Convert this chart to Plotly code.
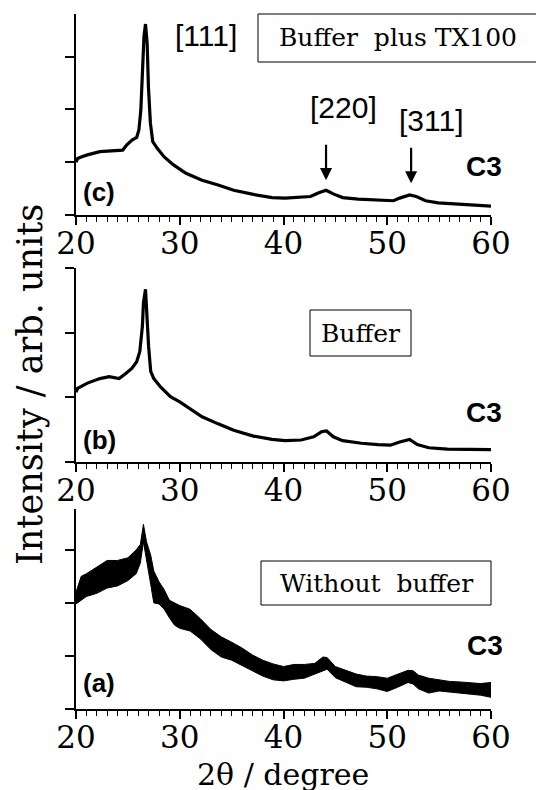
import plotly.graph_objects as go

# ---------------- data ----------------
# Panel (c): Buffer plus TX100
x_c = [20.0, 20.15, 20.5, 21.1, 22.3, 23.5, 24.5, 24.9, 25.4, 25.85, 26.06, 26.25, 26.4, 26.55, 26.7,
       26.86, 26.98, 27.17, 27.4, 27.85, 28.5, 29.4, 30.6, 32.15, 33.7, 35.2, 37.1, 38.9, 40.15, 41.7,
       42.6, 43.4, 44.1, 44.8, 45.7, 47.2, 48.8, 50.6, 51.2, 52.15, 52.8, 53.7, 54.9, 56.5, 58.3, 60.0]
y_c = [1.00, 1.07, 1.10, 1.14, 1.20, 1.22, 1.23, 1.33, 1.42, 1.47, 1.61, 1.99, 2.62, 3.38, 3.62,
       3.25, 2.43, 1.74, 1.39, 1.26, 1.10, 0.95, 0.79, 0.66, 0.57, 0.47, 0.39, 0.33, 0.32, 0.33,
       0.35, 0.42, 0.47, 0.40, 0.33, 0.30, 0.285, 0.27, 0.32, 0.38, 0.35, 0.27, 0.23, 0.21, 0.19, 0.17]

# Panel (b): Buffer
x_b = [20.0, 20.15, 21.1, 22.3, 23.2, 24.15, 24.8, 25.4, 25.85, 26.15, 26.4, 26.5, 26.7, 26.8, 27.0,
       27.2, 27.5, 28.15, 29.1, 30.0, 30.9, 32.15, 33.7, 35.2, 37.1, 38.9, 40.15, 41.7, 42.9, 43.7,
       44.15, 44.8, 45.7, 47.5, 49.1, 50.3, 51.2, 52.15, 52.9, 54.0, 55.8, 57.7, 60.0]
y_b = [1.08, 1.14, 1.22, 1.29, 1.32, 1.29, 1.37, 1.45, 1.55, 1.71, 2.10, 2.46, 2.67, 2.35, 1.78,
       1.40, 1.29, 1.16, 1.01, 0.93, 0.83, 0.70, 0.59, 0.49, 0.40, 0.35, 0.33, 0.34, 0.39, 0.47,
       0.48, 0.39, 0.33, 0.29, 0.27, 0.26, 0.31, 0.35, 0.27, 0.22, 0.20, 0.19, 0.19]

# Panel (a): Without buffer (very noisy: upper / lower envelope of the trace)
x_a = [20.0, 20.5, 21.0, 22.0, 23.0, 24.0, 25.0, 25.8, 26.2, 26.5, 26.8, 27.2, 27.5, 28.0, 28.5,
       29.0, 29.5, 30.0, 31.0, 32.0, 33.0, 34.0, 35.0, 36.0, 37.0, 38.0, 39.0, 40.0, 41.0, 42.0,
       43.0, 43.8, 44.2, 45.0, 46.0, 47.0, 48.0, 49.0, 50.0, 51.0, 52.0, 52.5, 53.0, 54.0, 55.0,
       56.0, 57.0, 58.0, 59.0, 60.0]
a_upper = [2.20, 2.50, 2.55, 2.68, 2.80, 2.80, 2.85, 3.00, 3.10, 3.48, 3.15, 2.90, 2.60, 2.40, 2.25,
           2.05, 2.00, 1.95, 1.88, 1.70, 1.50, 1.36, 1.26, 1.15, 1.02, 0.92, 0.85, 0.80, 0.84, 0.84,
           0.86, 0.98, 0.97, 0.80, 0.73, 0.66, 0.62, 0.61, 0.58, 0.66, 0.73, 0.72, 0.64, 0.58, 0.55,
           0.52, 0.51, 0.49, 0.48, 0.50]
a_lower = [1.98, 2.05, 2.12, 2.18, 2.28, 2.32, 2.42, 2.55, 2.75, 3.15, 2.85, 2.35, 2.00, 1.98, 1.88,
           1.72, 1.58, 1.52, 1.47, 1.32, 1.12, 0.98, 0.92, 0.82, 0.72, 0.62, 0.55, 0.53, 0.56, 0.58,
           0.65, 0.72, 0.75, 0.59, 0.50, 0.42, 0.41, 0.38, 0.33, 0.41, 0.50, 0.47, 0.38, 0.30, 0.34,
           0.31, 0.29, 0.28, 0.26, 0.22]

x_ticks = [20, 30, 40, 50, 60]
y_ticks = [0, 1, 2, 3]
peak_pos = [44.1, 52.3]           # arrows [220], [311]
peak_tip = [0.66, 0.60]
peak_labels = ["[220]", "[311]"]

# ---------------- figure ----------------
# the page puts the figure 8px in from the top-left corner, so the figure is 8px smaller
OFF = 8
W, H = 544 - OFF, 790 - OFF
def px(x): return (x - OFF) / W
def py(y): return 1 - (y - OFF) / H

SERIF = "DejaVu Serif"
SANS = "Liberation Sans"

fig = go.Figure()
fig.add_trace(go.Scatter(x=x_c, y=y_c, mode="lines", line=dict(color="black", width=3.2),
                         xaxis="x", yaxis="y", showlegend=False))
fig.add_trace(go.Scatter(x=x_b, y=y_b, mode="lines", line=dict(color="black", width=3.2),
                         xaxis="x2", yaxis="y2", showlegend=False))
fig.add_trace(go.Scatter(x=x_a + x_a[::-1], y=a_upper + a_lower[::-1], mode="lines",
                         fill="toself", fillcolor="black", line=dict(color="black", width=1),
                         xaxis="x3", yaxis="y3", showlegend=False))

xdom = [px(76), px(491)]
xcommon = dict(range=[20, 60], domain=xdom, showline=True, linecolor="black", linewidth=2,
               ticks="outside", ticklen=8, tickwidth=1.5, tickcolor="black",
               tickvals=x_ticks, showgrid=False, zeroline=False, automargin=False,
               ticklabelstandoff=-8,
               minor=dict(dtick=1, ticks="outside", ticklen=5, tickwidth=1, tickcolor="black"),
               tickfont=dict(family=SERIF, size=31, color="black"))
ycommon = dict(showline=True, linecolor="black", linewidth=2, ticks="outside", ticklen=9,
               tickwidth=1.5, tickcolor="black", tickvals=y_ticks, showticklabels=False,
               showgrid=False, zeroline=False, automargin=False)

fig.update_layout(
    width=W, height=H, autosize=False, margin=dict(l=0, r=0, t=0, b=0, pad=0),
    paper_bgcolor="white", plot_bgcolor="white",
    xaxis=dict(**xcommon, anchor="y"),
    xaxis2=dict(**xcommon, anchor="y2"),
    xaxis3=dict(**xcommon, anchor="y3"),
    yaxis=dict(**ycommon, domain=[py(215), py(14)], range=[0, 3.81], anchor="x"),
    yaxis2=dict(**ycommon, domain=[py(462), py(268)], range=[0, 3.0], anchor="x2"),
    yaxis3=dict(**ycommon, domain=[py(709), py(509)], range=[0, 3.77], anchor="x3"),
)

ann = []
def text(x, y, t, font, size, bold=False, **kw):
    ann.append(dict(x=px(x), y=py(y), xref="paper", yref="paper", text=("<b>%s</b>" % t) if bold else t,
                    showarrow=False, xanchor="center", yanchor="middle",
                    font=dict(family=font, size=size, color="black"), **kw))

# axis titles
text(30, 385, "Intensity / arb. units", SERIF, 35, textangle=-90)
text(283, 774, "2θ / degree", SERIF, 30)

# panel (c)
text(206, 36, "[111]", SANS, 30)
text(398, 38, "Buffer  plus TX100", SERIF, 25)
text(484, 166, "C3", SANS, 28, bold=True)
text(99, 192, "(c)", SANS, 26, bold=True)
label_y = [108, 121]
for xp, tip in zip(peak_pos, peak_tip):
    ann.append(dict(x=xp, y=tip, xref="x", yref="y", ax=0, ay=-37, showarrow=True,
                    arrowhead=2, arrowsize=1.1, arrowwidth=2.2, arrowcolor="black", text=""))
for lab, cx, cy in zip(peak_labels, [343, 431], label_y):
    text(cx, cy, lab, SANS, 30)

# panel (b)
text(360, 333, "Buffer", SERIF, 25)
text(484, 412, "C3", SANS, 28, bold=True)
text(99, 440, "(b)", SANS, 26, bold=True)

# panel (a)
text(376, 583, "Without  buffer", SERIF, 25)
text(485, 645, "C3", SANS, 28, bold=True)
text(99, 683, "(a)", SANS, 26, bold=True)

fig.update_layout(annotations=ann)

shapes = []
for x0, y0, x1, y1 in [(258, 14, 540, 62), (310, 310, 411, 356), (261, 561, 491, 605)]:
    shapes.append(dict(type="rect", xref="paper", yref="paper", x0=px(x0), x1=px(x1),
                       y0=py(y1), y1=py(y0), line=dict(color="black", width=1)))
fig.update_layout(shapes=shapes)

fig.write_html("out.html")
